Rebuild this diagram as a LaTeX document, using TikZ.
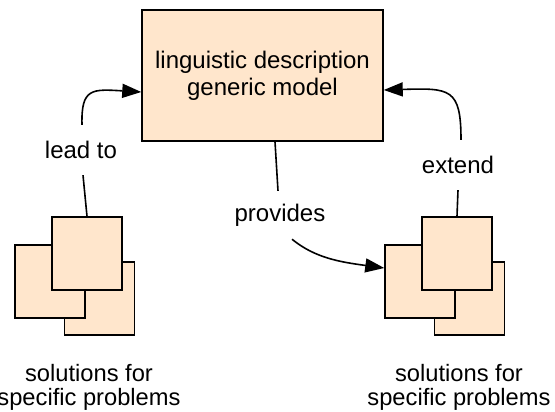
\documentclass[tikz,border=0pt]{standalone}
\usepackage{fontspec}
\setmainfont{Liberation Sans}
\usetikzlibrary{arrows.meta}
\definecolor{peach}{HTML}{FFE6CC}
\begin{document}
\begin{tikzpicture}[x=1pt,y=-1pt,
  box/.style={draw=black,fill=peach,line width=1.5pt,inner sep=0pt},
  sq/.style={box,minimum width=70pt,minimum height=73pt},
  lbl/.style={inner sep=0pt,minimum height=50pt,font=\fontsize{24}{27}\selectfont},
  captext/.style={inner sep=0pt,align=center,anchor=north,font=\fontsize{23.7}{24}\selectfont},
  conn/.style={line width=1.6pt,draw=black},
  arr/.style={conn,-{Triangle[length=19pt,width=14pt]}}
]
\useasboundingbox (0,0) rectangle (555,412);
% main box
\node[box,minimum width=241pt,minimum height=131pt,align=center,
      font=\fontsize{24}{27}\selectfont] (main) at (262.5,75.5)
      {linguistic description\\generic model};
% left stack
\node[sq] (l3) at (99.5,298.5) {};
\node[sq] (l1) at (50,281.5) {};
\node[sq] (l2) at (87,253.5) {};
% right stack
\node[sq] (r3) at (469.5,298.5) {};
\node[sq] (r1) at (420,281.5) {};
\node[sq] (r2) at (457,253.5) {};
% captions
\node[captext] (lc) at (89,364) {solutions for\\specific problems};
\node[captext] (rc) at (459,364) {solutions for\\specific problems};
% labels
\node[lbl] (leadto) at (81,150) {lead to};
\node[lbl] (extend) at (458,165) {extend};
\node[lbl,minimum height=48pt] (provides) at (280,215) {provides};
% connectors
\draw[conn] (l2.north) -- ([xshift=2pt]leadto.south);
\draw[arr] ([xshift=1pt]leadto.north) .. controls (81,88) and (92,89) .. ([yshift=-16.5pt]main.west);
\draw[conn] (r2.north) -- (extend.south);
\draw[arr] ([xshift=3pt]extend.north) .. controls (461,88) and (450,88) .. ([yshift=-14.5pt]main.east);
\draw[conn] ([xshift=12.5pt]main.south) -- ([xshift=-2pt]provides.north);
\draw[arr] ([xshift=12pt]provides.south) .. controls (315,258) and (340,262) .. ([yshift=13.5pt]r1.west);
\end{tikzpicture}
\end{document}
